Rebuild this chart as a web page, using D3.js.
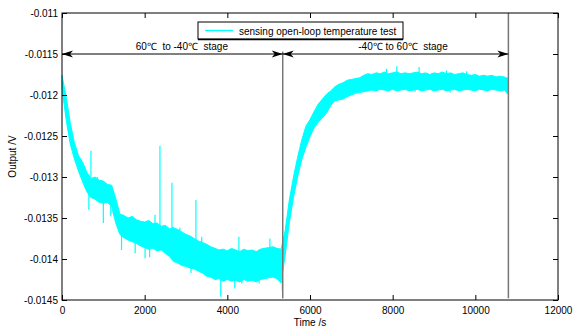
<!DOCTYPE html>
<html>
<head>
<meta charset="utf-8">
<script src="https://cdn.jsdelivr.net/npm/d3@7"></script>
<style>
  body { margin: 0; background: #fff; }
  svg { display: block; }
</style>
</head>
<body>
<svg id="chart"></svg>
<script>
// noise band of the sensor output in mV, read every 100 s from t = 0 to 10800 s
const sampleStep = 100;
const bandUpperMv = [
  -11.76, -12.02, -12.34, -12.58, -12.74, -12.82, -12.94, -13.02, -13.00, -13.04,
  -13.05, -13.09, -13.10, -13.26, -13.45, -13.47, -13.50, -13.48, -13.52, -13.54,
  -13.55, -13.53, -13.57, -13.56, -13.60, -13.59, -13.63, -13.62, -13.64, -13.67,
  -13.70, -13.72, -13.75, -13.78, -13.80, -13.82, -13.85, -13.87, -13.89, -13.88,
  -13.90, -13.87, -13.89, -13.91, -13.88, -13.90, -13.89, -13.91, -13.88, -13.87,
  -13.86, -13.85, -13.87, -13.88, -13.65, -13.28, -13.00, -12.76, -12.55, -12.38,
  -12.30, -12.20, -12.11, -12.05, -11.99, -11.95, -11.90, -11.87, -11.85, -11.82,
  -11.81, -11.80, -11.79, -11.76, -11.74, -11.75, -11.73, -11.74, -11.72, -11.74,
  -11.73, -11.72, -11.74, -11.73, -11.74, -11.73, -11.72, -11.74, -11.73, -11.75,
  -11.73, -11.74, -11.72, -11.74, -11.73, -11.75, -11.74, -11.73, -11.75, -11.76,
  -11.75, -11.77, -11.76, -11.77, -11.76, -11.78, -11.77, -11.78, -11.80
];
const bandLowerMv = [
  -11.92, -12.30, -12.60, -12.78, -12.93, -13.06, -13.18, -13.25, -13.27, -13.31,
  -13.32, -13.31, -13.36, -13.56, -13.70, -13.74, -13.77, -13.79, -13.81, -13.84,
  -13.86, -13.88, -13.87, -13.90, -13.89, -13.93, -13.97, -14.03, -14.05, -14.08,
  -14.09, -14.11, -14.12, -14.15, -14.17, -14.21, -14.22, -14.25, -14.24, -14.27,
  -14.25, -14.27, -14.26, -14.28, -14.25, -14.27, -14.26, -14.28, -14.25, -14.24,
  -14.23, -14.22, -14.24, -14.29, -13.95, -13.56, -13.25, -13.00, -12.79, -12.64,
  -12.51, -12.40, -12.33, -12.28, -12.22, -12.13, -12.07, -12.06, -12.05, -12.02,
  -12.00, -11.98, -11.97, -11.96, -11.95, -11.94, -11.95, -11.93, -11.94, -11.95,
  -11.93, -11.95, -11.94, -11.93, -11.95, -11.94, -11.93, -11.95, -11.94, -11.93,
  -11.95, -11.94, -11.93, -11.95, -11.94, -11.93, -11.95, -11.94, -11.93, -11.94,
  -11.95, -11.93, -11.94, -11.95, -11.93, -11.94, -11.95, -11.94, -11.99
];
// isolated spikes: [time s, value mV]
const spikes = [
  [650, -13.40], [700, -12.68], [860, -13.00], [1000, -13.56], [1180, -13.48],
  [1200, -13.12], [1440, -13.89], [1770, -13.93], [2010, -13.99], [2120, -13.98],
  [2250, -13.46], [2370, -12.62], [2660, -13.07], [2690, -14.01], [2690, -13.61],
  [2850, -13.62], [3120, -14.17], [3240, -13.28], [3380, -13.73], [3560, -14.22],
  [3840, -14.46], [4180, -14.36], [4280, -13.73], [4350, -14.30], [4770, -14.30],
  [5030, -13.75], [5190, -14.22], [5330, -14.38], [7850, -11.68], [8100, -11.65],
  [8540, -11.96], [8640, -11.66], [9300, -11.70], [9390, -11.97], [9790, -11.71]
];

const xTicks = [0, 2000, 4000, 6000, 8000, 10000, 12000];
const xTickLabels = ["0", "2000", "4000", "6000", "8000", "10000", "12000"];
const yTicks = [-0.011, -0.0115, -0.012, -0.0125, -0.013, -0.0135, -0.014, -0.0145];
const yTickLabels = ["-0.011", "-0.0115", "-0.012", "-0.0125", "-0.013", "-0.0135", "-0.014", "-0.0145"];

// stage boundaries (s) and their vertical marker spans (V)
const stageTimes = [0, 5340, 10800];
const markerTop = [-0.01147, -0.011];
const markerBottom = -0.01448;
const arrowLevel = -0.0115;
const stageLabels = ["60\u2103  to -40\u2103  stage", "-40\u2103 to 60\u2103  stage"];
const stageLabelTimes = [2900, 8250];
const legendLabel = "sensing open-loop temperature test";

const W = 573, H = 327;
const margin = {top: 13, right: 15, bottom: 27, left: 62};
const font = "'Liberation Sans', Arial, sans-serif";
const cyan = "#00ffff";

const svg = d3.select("#chart").attr("width", W).attr("height", H)
  .attr("font-family", font);

const x = d3.scaleLinear().domain([0, 12000]).range([margin.left, W - margin.right]);
const y = d3.scaleLinear().domain([-0.0145, -0.011]).range([H - margin.bottom, margin.top]);

// data trace: noise band + spikes
const area = d3.area()
  .x((d, i) => x(i * sampleStep))
  .y0((d, i) => y(bandLowerMv[i] / 1000))
  .y1(d => y(d / 1000));

svg.append("path")
  .datum(bandUpperMv)
  .attr("fill", cyan)
  .attr("stroke", cyan)
  .attr("stroke-width", 1)
  .attr("d", area);

svg.append("g").selectAll("line")
  .data(spikes)
  .join("line")
    .attr("x1", d => x(d[0])).attr("x2", d => x(d[0]))
    .attr("y1", d => {
      const i = Math.round(d[0] / sampleStep);
      return y((bandUpperMv[i] + bandLowerMv[i]) / 2000);
    })
    .attr("y2", d => y(d[1] / 1000))
    .attr("stroke", cyan)
    .attr("stroke-width", 1.2);

// vertical stage markers
svg.append("g").selectAll("line")
  .data(stageTimes.slice(1))
  .join("line")
    .attr("x1", d => x(d)).attr("x2", d => x(d))
    .attr("y1", (d, i) => y(markerTop[i]))
    .attr("y2", y(markerBottom))
    .attr("stroke", "#777")
    .attr("stroke-width", 1.5);

// double arrows
const arrowG = svg.append("g");
function arrowHead(px, py, dir) {
  // dir = 1 pointing right, -1 pointing left
  const L = 11, Hh = 3.5, notch = 3;
  return `M${px},${py} L${px - dir * L},${py - Hh} L${px - dir * (L - notch)},${py} L${px - dir * L},${py + Hh} Z`;
}
d3.pairs(stageTimes).forEach(([a, b]) => {
  const ya = y(arrowLevel);
  arrowG.append("line")
    .attr("x1", x(a)).attr("x2", x(b))
    .attr("y1", ya).attr("y2", ya)
    .attr("stroke", "#000").attr("stroke-width", 1);
  arrowG.append("path").attr("d", arrowHead(x(a), ya, -1)).attr("fill", "#000");
  arrowG.append("path").attr("d", arrowHead(x(b), ya, 1)).attr("fill", "#000");
});

svg.append("g").selectAll("text")
  .data(stageLabels)
  .join("text")
    .attr("x", (d, i) => x(stageLabelTimes[i]))
    .attr("y", y(arrowLevel) - 4)
    .attr("text-anchor", "middle")
    .attr("font-size", 10)
    .style("white-space", "pre")
    .text(d => d);

// axes, MATLAB style with inward ticks on all four sides
const tickLen = 5;
const bottomAxis = d3.axisBottom(x).tickValues(xTicks)
  .tickFormat((d, i) => xTickLabels[i]).tickSizeInner(-tickLen).tickSizeOuter(0).tickPadding(7);
const topAxis = d3.axisTop(x).tickValues(xTicks).tickFormat("").tickSizeInner(-tickLen).tickSizeOuter(0);
const leftAxis = d3.axisLeft(y).tickValues(yTicks)
  .tickFormat((d, i) => yTickLabels[i]).tickSizeInner(-tickLen).tickSizeOuter(0).tickPadding(4);
const rightAxis = d3.axisRight(y).tickValues(yTicks).tickFormat("").tickSizeInner(-tickLen).tickSizeOuter(0);

function styleAxis(g) {
  g.select(".domain").remove();
  g.selectAll("line").attr("stroke", "#000");
  g.selectAll("text").attr("font-size", 10).attr("font-family", font).attr("fill", "#000");
}

svg.append("g").attr("transform", `translate(0,${y.range()[0]})`).call(bottomAxis).call(styleAxis);
svg.append("g").attr("transform", `translate(0,${y.range()[1]})`).call(topAxis).call(styleAxis);
svg.append("g").attr("transform", `translate(${x.range()[0]},0)`).call(leftAxis).call(styleAxis);
svg.append("g").attr("transform", `translate(${x.range()[1]},0)`).call(rightAxis).call(styleAxis);

svg.append("rect")
  .attr("x", x.range()[0]).attr("y", y.range()[1])
  .attr("width", x.range()[1] - x.range()[0])
  .attr("height", y.range()[0] - y.range()[1])
  .attr("fill", "none").attr("stroke", "#000").attr("stroke-width", 1);

// axis titles
svg.append("text")
  .attr("x", (x.range()[0] + x.range()[1]) / 2)
  .attr("y", H - 1)
  .attr("text-anchor", "middle")
  .attr("font-size", 10)
  .text("Time /s");

svg.append("text")
  .attr("transform", `translate(16,${(y.range()[0] + y.range()[1]) / 2}) rotate(-90)`)
  .attr("text-anchor", "middle")
  .attr("font-size", 10)
  .text("Output /V");

// legend
const lg = svg.append("g").attr("transform", "translate(198,22)");
lg.append("rect").attr("width", 205).attr("height", 17)
  .attr("fill", "#fff").attr("stroke", "#000").attr("stroke-width", 1);
lg.append("line").attr("x1", 0).attr("x2", 205).attr("y1", 17.5).attr("y2", 17.5)
  .attr("stroke", "#000").attr("stroke-width", 1.5);
lg.append("line").attr("x1", 7).attr("x2", 35).attr("y1", 8.5).attr("y2", 8.5)
  .attr("stroke", cyan).attr("stroke-width", 1.3);
lg.append("text").attr("x", 41).attr("y", 12.5)
  .attr("font-size", 10)
  .text(legendLabel);
</script>
</body>
</html>
